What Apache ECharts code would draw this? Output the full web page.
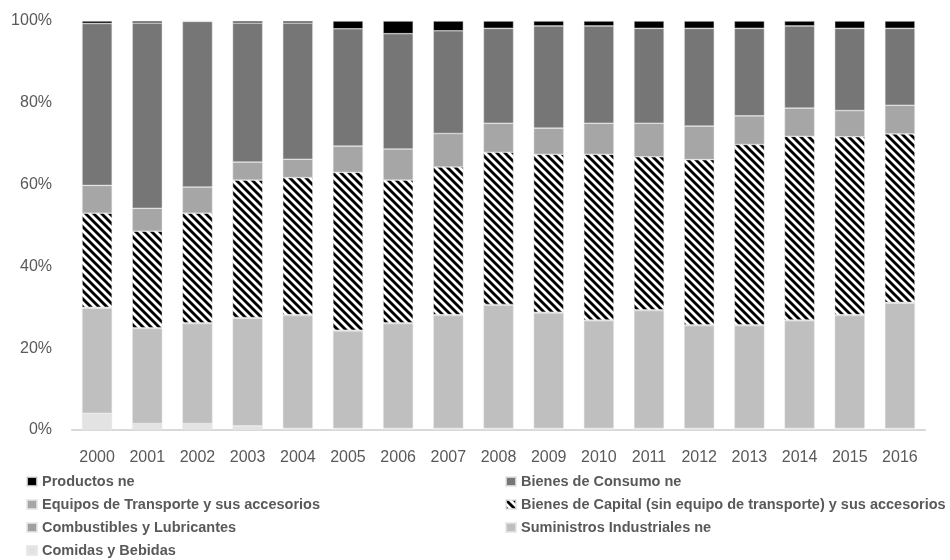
<!DOCTYPE html>
<html>
<head>
<meta charset="utf-8">
<script src="https://cdn.jsdelivr.net/npm/echarts@6/dist/echarts.min.js"></script>
<style>
html,body{margin:0;padding:0;background:#fff;}
#chart{width:950px;height:560px;}
</style>
</head>
<body>
<div id="chart"></div>
<script>
const years = ['2000','2001','2002','2003','2004','2005','2006','2007','2008','2009','2010','2011','2012','2013','2014','2015','2016'];
const yTicks = [0, 20, 40, 60, 80, 100];

const productosNe      = [0.6, 0.5, 0.1, 0.5, 0.5, 1.9, 3.1, 2.4, 1.8, 1.2, 1.2, 1.8, 1.8, 1.8, 1.2, 1.8, 1.8];
const bienesConsumo    = [39.6, 45.3, 40.5, 34.0, 33.3, 28.7, 28.2, 25.1, 23.2, 25.0, 23.8, 23.2, 23.9, 21.4, 20.1, 20.1, 18.8];
const equiposTransp    = [6.8, 5.6, 6.4, 4.4, 4.5, 6.4, 7.6, 8.2, 7.1, 6.4, 7.6, 8.2, 8.2, 7.0, 6.9, 6.4, 7.0];
const bienesCapital    = [23.0, 23.6, 26.8, 33.6, 33.5, 38.6, 34.9, 36.1, 37.2, 38.6, 40.5, 37.4, 40.4, 44.1, 44.9, 43.5, 41.2];
const combustibles     = [0.2, 0.2, 0.2, 0.2, 0.2, 0.2, 0.2, 0.2, 0.2, 0.2, 0.2, 0.2, 0.2, 0.2, 0.2, 0.2, 0.2];
const suministros      = [25.7, 23.2, 24.4, 26.3, 27.6, 23.8, 25.6, 27.6, 30.1, 28.2, 26.3, 28.8, 25.1, 25.1, 26.3, 27.6, 30.6];
const comidasBebidas   = [4.1, 1.6, 1.6, 1.0, 0.4, 0.4, 0.4, 0.4, 0.4, 0.4, 0.4, 0.4, 0.4, 0.4, 0.4, 0.4, 0.4];

const names = {
  prod: 'Productos ne',
  cons: 'Bienes de Consumo ne',
  trans: 'Equipos de Transporte y sus accesorios',
  cap: 'Bienes de Capital (sin equipo de transporte) y sus accesorios',
  comb: 'Combustibles y Lubricantes',
  sum: 'Suministros Industriales ne',
  com: 'Comidas y Bebidas'
};

// diagonal stripe pattern "\"
const pc = document.createElement('canvas');
pc.width = 8; pc.height = 8;
const ctx = pc.getContext('2d');
ctx.fillStyle = '#fff';
ctx.fillRect(0, 0, 8, 8);
ctx.strokeStyle = '#000';
ctx.lineWidth = 2.9;
[-8, 0, 8].forEach(c => {
  ctx.beginPath();
  ctx.moveTo(-4, -4 + c);
  ctx.lineTo(12, 12 + c);
  ctx.stroke();
});

const chart = echarts.init(document.getElementById('chart'), null, {renderer: 'canvas'});

function bar(name, data, color) {
  return {
    name: name,
    type: 'bar',
    stack: 'total',
    data: data,
    barWidth: '60%',
    itemStyle: {color: color, borderColor: 'rgba(230,230,230,0.8)', borderWidth: 0.6},
    emphasis: {disabled: true}
  };
}

const legendText = {color: '#595959', fontSize: 14.5, fontWeight: 'bold', fontFamily: 'Liberation Sans, Arial, sans-serif'};

function leg(name, left, top) {
  return {
    left: left, top: top, padding: 0,
    itemWidth: 10, itemHeight: 9, itemGap: 4,
    icon: 'rect', selectedMode: false,
    textStyle: legendText,
    data: [name]
  };
}

chart.setOption({
  animation: false,
  backgroundColor: '#fff',
  grid: {left: 72, right: 25, top: 21, bottom: 130},
  xAxis: {
    type: 'category',
    data: years,
    axisLine: {show: true, lineStyle: {color: '#d9d9d9', width: 2}},
    axisTick: {show: false},
    axisLabel: {color: '#595959', fontSize: 16, fontFamily: 'Liberation Sans, Arial, sans-serif', margin: 20}
  },
  yAxis: {
    type: 'value',
    min: yTicks[0],
    max: yTicks[yTicks.length - 1],
    interval: yTicks[1] - yTicks[0],
    axisLine: {show: false},
    axisTick: {show: false},
    splitLine: {show: false},
    axisLabel: {formatter: '{value}%', color: '#595959', fontSize: 16, fontFamily: 'Liberation Sans, Arial, sans-serif', margin: 20}
  },
  legend: [
    leg(names.prod, 26, 474),
    leg(names.trans, 26, 497),
    leg(names.comb, 26, 520),
    leg(names.com, 26, 543),
    leg(names.cons, 505, 474),
    leg(names.cap, 505, 497),
    leg(names.sum, 505, 520)
  ],
  series: [
    bar(names.com, comidasBebidas, '#e3e3e3'),
    bar(names.sum, suministros, '#bfbfbf'),
    bar(names.comb, combustibles, '#a0a0a0'),
    bar(names.cap, bienesCapital, {image: pc, repeat: 'repeat'}),
    bar(names.trans, equiposTransp, '#a6a6a6'),
    bar(names.cons, bienesConsumo, '#767676'),
    bar(names.prod, productosNe, '#000000')
  ]
});
</script>
</body>
</html>
